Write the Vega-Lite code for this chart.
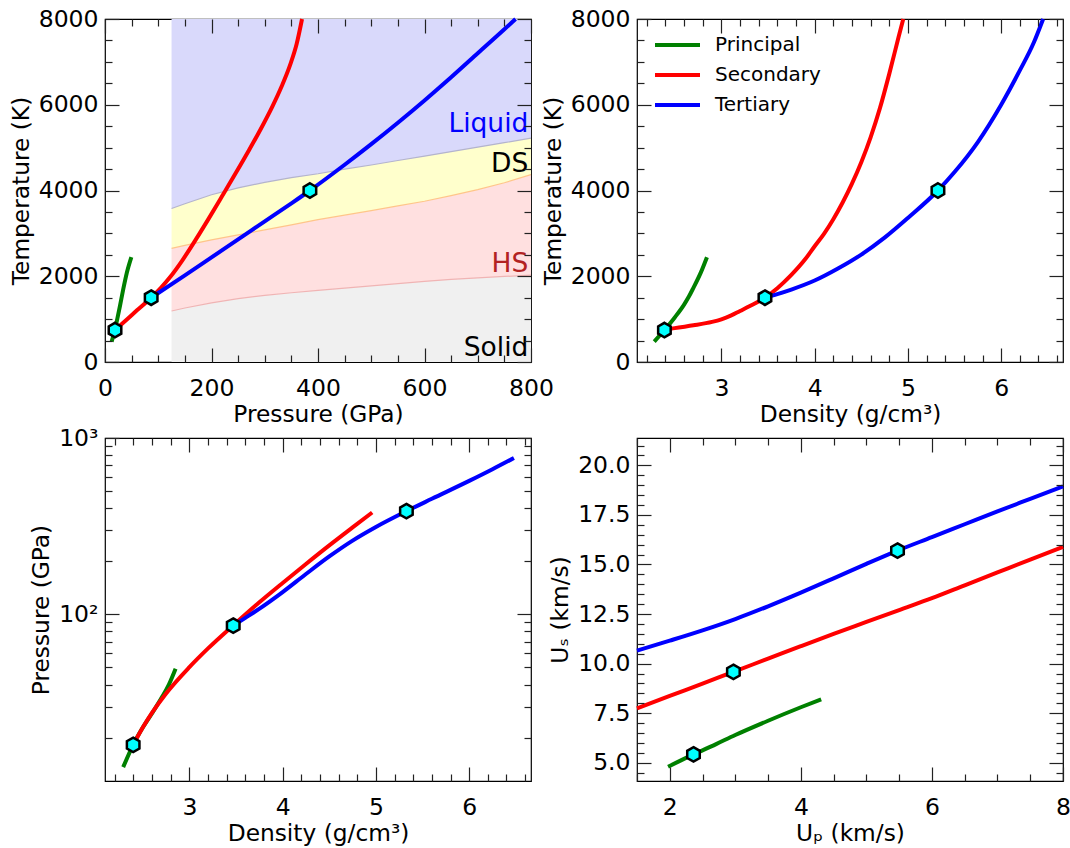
{
"$schema":"https://vega.github.io/schema/vega-lite/v6.json",
"padding":{"left":8,"top":6,"right":0,"bottom":0},
"bounds":"flush",
"columns":2,
"spacing":{"row":76,"column":106},
"config":{
 "font":"DejaVu Sans",
 "view":{"stroke":"#000","strokeWidth":1.2},
 "axis":{"grid":false,"domain":false,"labelFont":"DejaVu Sans","titleFont":"DejaVu Sans","labelFontSize":23.5,"titleFontSize":23.3,"titleFontWeight":"normal","labelColor":"#000","titleColor":"#000","tickColor":"#222","tickWidth":1.2},
 "legend":{"labelFont":"DejaVu Sans"}
},
"resolve":{"scale":{"color":"independent"}},
"datasets":{
 "p1band":[
  {"P":125,"b1":1190,"b2":2650,"b3":3580},
  {"P":150,"b1":1260,"b2":2720,"b3":3690},
  {"P":200,"b1":1380,"b2":2850,"b3":3900},
  {"P":250,"b1":1480,"b2":2965,"b3":4060},
  {"P":300,"b1":1555,"b2":3080,"b3":4190},
  {"P":350,"b1":1615,"b2":3200,"b3":4300},
  {"P":400,"b1":1670,"b2":3320,"b3":4390},
  {"P":450,"b1":1725,"b2":3425,"b3":4500},
  {"P":500,"b1":1775,"b2":3530,"b3":4595},
  {"P":550,"b1":1830,"b2":3640,"b3":4700},
  {"P":600,"b1":1880,"b2":3750,"b3":4800},
  {"P":650,"b1":1925,"b2":3880,"b3":4905},
  {"P":700,"b1":1960,"b2":4020,"b3":5010},
  {"P":750,"b1":1995,"b2":4180,"b3":5115},
  {"P":800,"b1":2025,"b2":4370,"b3":5220}],
 "p1lines":[
  {"s":"Principal","P":12.5,"T":475},{"s":"Principal","P":18.5,"T":745},{"s":"Principal","P":23,"T":1000},{"s":"Principal","P":28,"T":1300},{"s":"Principal","P":34,"T":1680},{"s":"Principal","P":41,"T":2080},{"s":"Principal","P":49.5,"T":2444},
  {"s":"Secondary","P":18.8,"T":745},{"s":"Secondary","P":40,"T":980},{"s":"Secondary","P":60,"T":1205},{"s":"Secondary","P":86.7,"T":1500},{"s":"Secondary","P":105,"T":1729},{"s":"Secondary","P":122,"T":1975},{"s":"Secondary","P":145,"T":2366},{"s":"Secondary","P":171,"T":2865},{"s":"Secondary","P":195,"T":3350},{"s":"Secondary","P":220,"T":3870},{"s":"Secondary","P":245,"T":4395},{"s":"Secondary","P":269,"T":4911},{"s":"Secondary","P":292,"T":5424},{"s":"Secondary","P":314,"T":5952},{"s":"Secondary","P":332,"T":6438},{"s":"Secondary","P":348,"T":6942},{"s":"Secondary","P":360,"T":7422},{"s":"Secondary","P":370,"T":8000},
  {"s":"Tertiary","P":86.7,"T":1500},{"s":"Tertiary","P":150,"T":2020},{"s":"Tertiary","P":200,"T":2440},{"s":"Tertiary","P":250,"T":2860},{"s":"Tertiary","P":300,"T":3280},{"s":"Tertiary","P":350,"T":3700},{"s":"Tertiary","P":384.8,"T":4000},{"s":"Tertiary","P":450,"T":4600},{"s":"Tertiary","P":500,"T":5080},{"s":"Tertiary","P":550,"T":5580},{"s":"Tertiary","P":600,"T":6100},{"s":"Tertiary","P":650,"T":6640},{"s":"Tertiary","P":700,"T":7200},{"s":"Tertiary","P":750,"T":7760},{"s":"Tertiary","P":771,"T":8000}],
 "p1pts":[{"P":18.8,"T":745},{"P":86.7,"T":1500},{"P":384.8,"T":4000}],
 "p1text":[{"label":"Liquid","P":795,"T":5353},{"label":"DS","P":795,"T":4443},{"label":"HS","P":795,"T":2090},{"label":"Solid","P":795,"T":149}],
 "p2lines":[
  {"s":"Principal","rho":2.28,"T":475},{"s":"Principal","rho":2.389,"T":745},{"s":"Principal","rho":2.5,"T":1040},{"s":"Principal","rho":2.6,"T":1340},{"s":"Principal","rho":2.65,"T":1520},{"s":"Principal","rho":2.7,"T":1730},{"s":"Principal","rho":2.78,"T":2090},{"s":"Principal","rho":2.845,"T":2444},
  {"s":"Secondary","rho":2.389,"T":745},{"s":"Secondary","rho":2.5,"T":790},{"s":"Secondary","rho":2.7,"T":855},{"s":"Secondary","rho":2.9,"T":935},{"s":"Secondary","rho":3.0,"T":995},{"s":"Secondary","rho":3.1,"T":1080},{"s":"Secondary","rho":3.2,"T":1190},{"s":"Secondary","rho":3.3,"T":1300},{"s":"Secondary","rho":3.467,"T":1500},{"s":"Secondary","rho":3.6,"T":1720},{"s":"Secondary","rho":3.75,"T":2030},{"s":"Secondary","rho":3.9,"T":2400},{"s":"Secondary","rho":4.0,"T":2700},{"s":"Secondary","rho":4.1,"T":2990},{"s":"Secondary","rho":4.2,"T":3330},{"s":"Secondary","rho":4.3,"T":3720},{"s":"Secondary","rho":4.4,"T":4160},{"s":"Secondary","rho":4.5,"T":4660},{"s":"Secondary","rho":4.6,"T":5240},{"s":"Secondary","rho":4.7,"T":5920},{"s":"Secondary","rho":4.8,"T":6720},{"s":"Secondary","rho":4.9,"T":7580},{"s":"Secondary","rho":4.95,"T":8000},
  {"s":"Tertiary","rho":3.467,"T":1500},{"s":"Tertiary","rho":3.6,"T":1585},{"s":"Tertiary","rho":3.75,"T":1690},{"s":"Tertiary","rho":4.0,"T":1900},{"s":"Tertiary","rho":4.25,"T":2180},{"s":"Tertiary","rho":4.5,"T":2505},{"s":"Tertiary","rho":4.75,"T":2900},{"s":"Tertiary","rho":5.0,"T":3360},{"s":"Tertiary","rho":5.322,"T":4000},{"s":"Tertiary","rho":5.5,"T":4430},{"s":"Tertiary","rho":5.75,"T":5130},{"s":"Tertiary","rho":6.0,"T":6000},{"s":"Tertiary","rho":6.2,"T":6800},{"s":"Tertiary","rho":6.35,"T":7450},{"s":"Tertiary","rho":6.45,"T":8000}],
 "p2pts":[{"rho":2.389,"T":745},{"rho":3.467,"T":1500},{"rho":5.322,"T":4000}],
 "p3lines":[
  {"s":"Principal","rho":2.29,"P":13.6},{"s":"Principal","rho":2.397,"P":18.2},{"s":"Principal","rho":2.5,"P":22.8},{"s":"Principal","rho":2.6,"P":27.5},{"s":"Principal","rho":2.7,"P":33.5},{"s":"Principal","rho":2.78,"P":40},{"s":"Principal","rho":2.852,"P":49.2},
  {"s":"Secondary","rho":2.397,"P":18.2},{"s":"Secondary","rho":2.5,"P":22.8},{"s":"Secondary","rho":2.6,"P":27.7},{"s":"Secondary","rho":2.75,"P":35.6},{"s":"Secondary","rho":3.0,"P":50.2},{"s":"Secondary","rho":3.2,"P":64.1},{"s":"Secondary","rho":3.47,"P":86.6},{"s":"Secondary","rho":3.75,"P":117},{"s":"Secondary","rho":4.0,"P":150.7},{"s":"Secondary","rho":4.25,"P":193},{"s":"Secondary","rho":4.5,"P":246},{"s":"Secondary","rho":4.75,"P":311},{"s":"Secondary","rho":4.96,"P":378},
  {"s":"Tertiary","rho":3.47,"P":86.3},{"s":"Tertiary","rho":3.6,"P":95.5},{"s":"Tertiary","rho":3.744,"P":107},{"s":"Tertiary","rho":4.0,"P":133.7},{"s":"Tertiary","rho":4.25,"P":169.3},{"s":"Tertiary","rho":4.5,"P":213},{"s":"Tertiary","rho":4.75,"P":262},{"s":"Tertiary","rho":5.0,"P":313},{"s":"Tertiary","rho":5.327,"P":384.6},{"s":"Tertiary","rho":5.6,"P":452},{"s":"Tertiary","rho":6.0,"P":571},{"s":"Tertiary","rho":6.25,"P":665},{"s":"Tertiary","rho":6.48,"P":770}],
 "p3pts":[{"rho":2.397,"P":18.2},{"rho":3.47,"P":86.3},{"rho":5.327,"P":384.6}],
 "p4lines":[
  {"s":"Principal","Up":1.974,"Us":4.8},{"s":"Principal","Up":2.362,"Us":5.42},{"s":"Principal","Up":2.7,"Us":5.93},{"s":"Principal","Up":3.0,"Us":6.4},{"s":"Principal","Up":3.5,"Us":7.12},{"s":"Principal","Up":4.0,"Us":7.8},{"s":"Principal","Up":4.31,"Us":8.2},
  {"s":"Secondary","Up":1.5,"Us":7.74},{"s":"Secondary","Up":2.0,"Us":8.37},{"s":"Secondary","Up":2.5,"Us":8.99},{"s":"Secondary","Up":2.971,"Us":9.586},{"s":"Secondary","Up":3.5,"Us":10.25},{"s":"Secondary","Up":4.0,"Us":10.88},{"s":"Secondary","Up":4.5,"Us":11.5},{"s":"Secondary","Up":5.0,"Us":12.1},{"s":"Secondary","Up":5.5,"Us":12.7},{"s":"Secondary","Up":6.0,"Us":13.3},{"s":"Secondary","Up":6.5,"Us":13.95},{"s":"Secondary","Up":7.0,"Us":14.6},{"s":"Secondary","Up":7.5,"Us":15.25},{"s":"Secondary","Up":8.0,"Us":15.89},
  {"s":"Tertiary","Up":1.5,"Us":10.66},{"s":"Tertiary","Up":2.0,"Us":11.16},{"s":"Tertiary","Up":2.5,"Us":11.68},{"s":"Tertiary","Up":3.0,"Us":12.25},{"s":"Tertiary","Up":3.5,"Us":12.89},{"s":"Tertiary","Up":4.0,"Us":13.58},{"s":"Tertiary","Up":4.5,"Us":14.3},{"s":"Tertiary","Up":5.0,"Us":15.03},{"s":"Tertiary","Up":5.475,"Us":15.7},{"s":"Tertiary","Up":6.0,"Us":16.38},{"s":"Tertiary","Up":6.5,"Us":17.03},{"s":"Tertiary","Up":7.0,"Us":17.68},{"s":"Tertiary","Up":7.5,"Us":18.31},{"s":"Tertiary","Up":8.0,"Us":18.94}],
 "p4pts":[{"Up":2.362,"Us":5.42},{"Up":2.971,"Us":9.586},{"Up":5.475,"Us":15.7}]
},
"concat":[
{
 "width":426,"height":343,
 "resolve":{"axis":{"x":"independent","y":"independent"}},
 "layer":[
  {"data":{"name":"p1band"},"mark":{"type":"area","color":"#f0f0f0","opacity":1},
   "encoding":{
    "x":{"field":"P","type":"quantitative","scale":{"domain":[0,800],"nice":false,"zero":false},"axis":{"orient":"bottom","values":[0,200,400,600,800],"format":"d","ticks":false,"labelPadding":14,"labelFlush":false,"labelOverlap":false,"title":"Pressure (GPa)","titlePadding":4,"zindex":1}},
    "y":{"field":"b1","type":"quantitative","scale":{"domain":[0,8000],"nice":false,"zero":false},"axis":{"orient":"left","values":[0,2000,4000,6000,8000],"format":"d","ticks":false,"labelPadding":7,"labelFlush":false,"labelOverlap":false,"title":"Temperature (K)","titlePadding":5,"zindex":1}},
    "y2":{"datum":0}}},
  {"data":{"name":"p1band"},"mark":{"type":"area","color":"#ffe0e0","opacity":1},
   "encoding":{
    "x":{"field":"P","type":"quantitative","scale":{"domain":[0,800],"nice":false,"zero":false},"axis":{"orient":"bottom","values":[0,200,400,600,800],"labels":false,"tickSize":-14,"title":null,"zindex":1}},
    "y":{"field":"b2","type":"quantitative","scale":{"domain":[0,8000],"nice":false,"zero":false},"axis":{"orient":"left","values":[0,2000,4000,6000,8000],"labels":false,"tickSize":-14,"title":null,"zindex":1}},
    "y2":{"field":"b1"}}},
  {"data":{"name":"p1band"},"mark":{"type":"area","color":"#ffffcc","opacity":1},
   "encoding":{
    "x":{"field":"P","type":"quantitative","scale":{"domain":[0,800],"nice":false,"zero":false},"axis":{"orient":"bottom","values":[50,100,150,250,300,350,450,500,550,650,700,750],"labels":false,"tickSize":-7,"title":null,"zindex":1}},
    "y":{"field":"b3","type":"quantitative","scale":{"domain":[0,8000],"nice":false,"zero":false},"axis":{"orient":"left","values":[500,1000,1500,2500,3000,3500,4500,5000,5500,6500,7000,7500],"labels":false,"tickSize":-7,"title":null,"zindex":1}},
    "y2":{"field":"b2"}}},
  {"data":{"name":"p1band"},"mark":{"type":"area","color":"#d9d9fb","opacity":1},
   "encoding":{
    "x":{"field":"P","type":"quantitative","scale":{"domain":[0,800],"nice":false,"zero":false},"axis":{"orient":"top","values":[0,200,400,600,800],"labels":false,"tickSize":-14,"title":null,"zindex":1}},
    "y":{"field":"b3","type":"quantitative","scale":{"domain":[0,8000],"nice":false,"zero":false},"axis":{"orient":"right","values":[0,2000,4000,6000,8000],"labels":false,"tickSize":-14,"title":null,"zindex":1}},
    "y2":{"datum":8000}}},
  {"data":{"name":"p1band"},"mark":{"type":"line","color":"#f0b4b4","strokeWidth":1.2},
   "encoding":{
    "x":{"field":"P","type":"quantitative","scale":{"domain":[0,800],"nice":false,"zero":false},"axis":{"orient":"top","values":[50,100,150,250,300,350,450,500,550,650,700,750],"labels":false,"tickSize":-7,"title":null,"zindex":1}},
    "y":{"field":"b1","type":"quantitative","scale":{"domain":[0,8000],"nice":false,"zero":false},"axis":{"orient":"right","values":[500,1000,1500,2500,3000,3500,4500,5000,5500,6500,7000,7500],"labels":false,"tickSize":-7,"title":null,"zindex":1}}}},
  {"data":{"name":"p1band"},"mark":{"type":"line","color":"#ffc58a","strokeWidth":1.2},
   "encoding":{
    "x":{"field":"P","type":"quantitative","scale":{"domain":[0,800],"nice":false,"zero":false},"axis":null},
    "y":{"field":"b2","type":"quantitative","scale":{"domain":[0,8000],"nice":false,"zero":false},"axis":null}}},
  {"data":{"name":"p1band"},"mark":{"type":"line","color":"#b4b4cc","strokeWidth":1.2},
   "encoding":{
    "x":{"field":"P","type":"quantitative","scale":{"domain":[0,800],"nice":false,"zero":false},"axis":null},
    "y":{"field":"b3","type":"quantitative","scale":{"domain":[0,8000],"nice":false,"zero":false},"axis":null}}},
  {"data":{"name":"p1lines"},"mark":{"type":"line","strokeWidth":4,"interpolate":"monotone"},
   "encoding":{
    "x":{"field":"P","type":"quantitative","scale":{"domain":[0,800],"nice":false,"zero":false},"axis":null},
    "y":{"field":"T","type":"quantitative","scale":{"domain":[0,8000],"nice":false,"zero":false},"axis":null},
    "color":{"field":"s","type":"nominal","scale":{"domain":["Principal","Secondary","Tertiary"],"range":["#008000","#ff0000","#0000ff"]},"legend":null}}},
  {"data":{"name":"p1pts"},"mark":{"type":"point","shape":"M0,-1L0.866,-0.5L0.866,0.5L0,1L-0.866,0.5L-0.866,-0.5Z","filled":true,"color":"#00ffff","stroke":"#000000","strokeWidth":2.5,"size":210,"opacity":1},
   "encoding":{
    "x":{"field":"P","type":"quantitative","scale":{"domain":[0,800],"nice":false,"zero":false},"axis":null},
    "y":{"field":"T","type":"quantitative","scale":{"domain":[0,8000],"nice":false,"zero":false},"axis":null}}},
  {"data":{"name":"p1text"},"mark":{"type":"text","align":"right","baseline":"alphabetic","fontSize":26.5,"font":"DejaVu Sans"},
   "encoding":{
    "x":{"field":"P","type":"quantitative","scale":{"domain":[0,800],"nice":false,"zero":false},"axis":null},
    "y":{"field":"T","type":"quantitative","scale":{"domain":[0,8000],"nice":false,"zero":false},"axis":null},
    "text":{"field":"label"},
    "fill":{"field":"label","type":"nominal","scale":{"domain":["Liquid","DS","HS","Solid"],"range":["#0000ff","#000000","#b22222","#000000"]},"legend":null}}}
 ]
},
{
 "width":426,"height":343,
 "resolve":{"axis":{"x":"independent","y":"independent"}},
 "layer":[
  {"data":{"name":"p2lines"},"mark":{"type":"line","strokeWidth":4,"interpolate":"monotone"},
   "encoding":{
    "x":{"field":"rho","type":"quantitative","scale":{"domain":[2.095,6.663],"nice":false,"zero":false},"axis":{"orient":"bottom","values":[3,4,5,6],"format":"d","ticks":false,"labelPadding":14,"labelFlush":false,"labelOverlap":false,"title":"Density (g/cm³)","titlePadding":4,"zindex":1}},
    "y":{"field":"T","type":"quantitative","scale":{"domain":[0,8000],"nice":false,"zero":false},"axis":{"orient":"left","values":[0,2000,4000,6000,8000],"format":"d","ticks":false,"labelPadding":7,"labelFlush":false,"labelOverlap":false,"title":"Temperature (K)","titlePadding":5,"zindex":1}},
    "color":{"field":"s","type":"nominal","scale":{"domain":["Principal","Secondary","Tertiary"],"range":["#008000","#ff0000","#0000ff"]},
      "legend":{"orient":"none","legendX":16,"legendY":11,"title":null,"symbolType":"stroke","symbolSize":2025,"symbolStrokeWidth":4,"labelFontSize":20,"labelColor":"#000","clipHeight":30,"rowPadding":0,"labelOffset":13,"padding":0}}}},
  {"data":{"name":"p2pts"},"mark":{"type":"point","shape":"M0,-1L0.866,-0.5L0.866,0.5L0,1L-0.866,0.5L-0.866,-0.5Z","filled":true,"color":"#00ffff","stroke":"#000000","strokeWidth":2.5,"size":210,"opacity":1},
   "encoding":{
    "x":{"field":"rho","type":"quantitative","scale":{"domain":[2.095,6.663],"nice":false,"zero":false},"axis":{"orient":"bottom","values":[3,4,5,6],"labels":false,"tickSize":-14,"title":null,"zindex":1}},
    "y":{"field":"T","type":"quantitative","scale":{"domain":[0,8000],"nice":false,"zero":false},"axis":{"orient":"left","values":[0,2000,4000,6000,8000],"labels":false,"tickSize":-14,"title":null,"zindex":1}}}},
  {"data":{"name":"p2pts"},"mark":{"type":"point","opacity":0},
   "encoding":{
    "x":{"field":"rho","type":"quantitative","scale":{"domain":[2.095,6.663],"nice":false,"zero":false},"axis":{"orient":"bottom","values":[2.2,2.4,2.6,2.8,3.2,3.4,3.6,3.8,4.2,4.4,4.6,4.8,5.2,5.4,5.6,5.8,6.2,6.4,6.6],"labels":false,"tickSize":-7,"title":null,"zindex":1}},
    "y":{"field":"T","type":"quantitative","scale":{"domain":[0,8000],"nice":false,"zero":false},"axis":{"orient":"left","values":[500,1000,1500,2500,3000,3500,4500,5000,5500,6500,7000,7500],"labels":false,"tickSize":-7,"title":null,"zindex":1}}}},
  {"data":{"name":"p2pts"},"mark":{"type":"point","opacity":0},
   "encoding":{
    "x":{"field":"rho","type":"quantitative","scale":{"domain":[2.095,6.663],"nice":false,"zero":false},"axis":{"orient":"top","values":[3,4,5,6],"labels":false,"tickSize":-14,"title":null,"zindex":1}},
    "y":{"field":"T","type":"quantitative","scale":{"domain":[0,8000],"nice":false,"zero":false},"axis":{"orient":"right","values":[0,2000,4000,6000,8000],"labels":false,"tickSize":-14,"title":null,"zindex":1}}}},
  {"data":{"name":"p2pts"},"mark":{"type":"point","opacity":0},
   "encoding":{
    "x":{"field":"rho","type":"quantitative","scale":{"domain":[2.095,6.663],"nice":false,"zero":false},"axis":{"orient":"top","values":[2.2,2.4,2.6,2.8,3.2,3.4,3.6,3.8,4.2,4.4,4.6,4.8,5.2,5.4,5.6,5.8,6.2,6.4,6.6],"labels":false,"tickSize":-7,"title":null,"zindex":1}},
    "y":{"field":"T","type":"quantitative","scale":{"domain":[0,8000],"nice":false,"zero":false},"axis":{"orient":"right","values":[500,1000,1500,2500,3000,3500,4500,5000,5500,6500,7000,7500],"labels":false,"tickSize":-7,"title":null,"zindex":1}}}}
 ]
},
{
 "width":426,"height":343,
 "resolve":{"axis":{"x":"independent","y":"independent"}},
 "layer":[
  {"data":{"name":"p3lines"},"mark":{"type":"line","strokeWidth":4,"interpolate":"monotone"},
   "encoding":{
    "x":{"field":"rho","type":"quantitative","scale":{"domain":[2.095,6.663],"nice":false,"zero":false},"axis":{"orient":"bottom","values":[3,4,5,6],"format":"d","ticks":false,"labelPadding":14,"labelFlush":false,"labelOverlap":false,"title":"Density (g/cm³)","titlePadding":4,"zindex":1}},
    "y":{"field":"P","type":"quantitative","scale":{"type":"log","domain":[11.35,1000],"nice":false},"axis":{"orient":"left","values":[100,1000],"labelExpr":"datum.value < 500 ? '10²' : '10³'","ticks":false,"labelPadding":7,"labelFlush":false,"labelOverlap":false,"title":"Pressure (GPa)","titlePadding":5,"zindex":1}},
    "color":{"field":"s","type":"nominal","scale":{"domain":["Principal","Secondary","Tertiary"],"range":["#008000","#ff0000","#0000ff"]},"legend":null}}},
  {"data":{"name":"p3pts"},"mark":{"type":"point","shape":"M0,-1L0.866,-0.5L0.866,0.5L0,1L-0.866,0.5L-0.866,-0.5Z","filled":true,"color":"#00ffff","stroke":"#000000","strokeWidth":2.5,"size":210,"opacity":1},
   "encoding":{
    "x":{"field":"rho","type":"quantitative","scale":{"domain":[2.095,6.663],"nice":false,"zero":false},"axis":{"orient":"bottom","values":[3,4,5,6],"labels":false,"tickSize":-14,"title":null,"zindex":1}},
    "y":{"field":"P","type":"quantitative","scale":{"type":"log","domain":[11.35,1000],"nice":false},"axis":{"orient":"left","values":[100,1000],"labels":false,"tickSize":-14,"title":null,"zindex":1}}}},
  {"data":{"name":"p3pts"},"mark":{"type":"point","opacity":0},
   "encoding":{
    "x":{"field":"rho","type":"quantitative","scale":{"domain":[2.095,6.663],"nice":false,"zero":false},"axis":{"orient":"bottom","values":[2.2,2.4,2.6,2.8,3.2,3.4,3.6,3.8,4.2,4.4,4.6,4.8,5.2,5.4,5.6,5.8,6.2,6.4,6.6],"labels":false,"tickSize":-7,"title":null,"zindex":1}},
    "y":{"field":"P","type":"quantitative","scale":{"type":"log","domain":[11.35,1000],"nice":false},"axis":{"orient":"left","values":[20,30,40,50,60,70,80,90,200,300,400,500,600,700,800,900],"labels":false,"tickSize":-7,"title":null,"zindex":1}}}},
  {"data":{"name":"p3pts"},"mark":{"type":"point","opacity":0},
   "encoding":{
    "x":{"field":"rho","type":"quantitative","scale":{"domain":[2.095,6.663],"nice":false,"zero":false},"axis":{"orient":"top","values":[3,4,5,6],"labels":false,"tickSize":-14,"title":null,"zindex":1}},
    "y":{"field":"P","type":"quantitative","scale":{"type":"log","domain":[11.35,1000],"nice":false},"axis":{"orient":"right","values":[100,1000],"labels":false,"tickSize":-14,"title":null,"zindex":1}}}},
  {"data":{"name":"p3pts"},"mark":{"type":"point","opacity":0},
   "encoding":{
    "x":{"field":"rho","type":"quantitative","scale":{"domain":[2.095,6.663],"nice":false,"zero":false},"axis":{"orient":"top","values":[2.2,2.4,2.6,2.8,3.2,3.4,3.6,3.8,4.2,4.4,4.6,4.8,5.2,5.4,5.6,5.8,6.2,6.4,6.6],"labels":false,"tickSize":-7,"title":null,"zindex":1}},
    "y":{"field":"P","type":"quantitative","scale":{"type":"log","domain":[11.35,1000],"nice":false},"axis":{"orient":"right","values":[20,30,40,50,60,70,80,90,200,300,400,500,600,700,800,900],"labels":false,"tickSize":-7,"title":null,"zindex":1}}}}
 ]
},
{
 "width":426,"height":343,
 "resolve":{"axis":{"x":"independent","y":"independent"}},
 "layer":[
  {"data":{"name":"p4lines"},"mark":{"type":"line","strokeWidth":4,"interpolate":"monotone"},
   "encoding":{
    "x":{"field":"Up","type":"quantitative","scale":{"domain":[1.5,8],"nice":false,"zero":false},"axis":{"orient":"bottom","values":[2,4,6,8],"format":"d","ticks":false,"labelPadding":14,"labelFlush":false,"labelOverlap":false,"title":"Uₚ (km/s)","titlePadding":4,"zindex":1}},
    "y":{"field":"Us","type":"quantitative","scale":{"domain":[4.08,21.38],"nice":false,"zero":false},"axis":{"orient":"left","values":[5,7.5,10,12.5,15,17.5,20],"format":".1f","ticks":false,"labelPadding":7,"labelFlush":false,"labelOverlap":false,"title":"Uₛ (km/s)","titlePadding":5,"zindex":1}},
    "color":{"field":"s","type":"nominal","scale":{"domain":["Principal","Secondary","Tertiary"],"range":["#008000","#ff0000","#0000ff"]},"legend":null}}},
  {"data":{"name":"p4pts"},"mark":{"type":"point","shape":"M0,-1L0.866,-0.5L0.866,0.5L0,1L-0.866,0.5L-0.866,-0.5Z","filled":true,"color":"#00ffff","stroke":"#000000","strokeWidth":2.5,"size":210,"opacity":1},
   "encoding":{
    "x":{"field":"Up","type":"quantitative","scale":{"domain":[1.5,8],"nice":false,"zero":false},"axis":{"orient":"bottom","values":[2,4,6,8],"labels":false,"tickSize":-14,"title":null,"zindex":1}},
    "y":{"field":"Us","type":"quantitative","scale":{"domain":[4.08,21.38],"nice":false,"zero":false},"axis":{"orient":"left","values":[5,7.5,10,12.5,15,17.5,20],"labels":false,"tickSize":-14,"title":null,"zindex":1}}}},
  {"data":{"name":"p4pts"},"mark":{"type":"point","opacity":0},
   "encoding":{
    "x":{"field":"Up","type":"quantitative","scale":{"domain":[1.5,8],"nice":false,"zero":false},"axis":{"orient":"bottom","values":[1.5,2.5,3,3.5,4.5,5,5.5,6.5,7,7.5],"labels":false,"tickSize":-7,"title":null,"zindex":1}},
    "y":{"field":"Us","type":"quantitative","scale":{"domain":[4.08,21.38],"nice":false,"zero":false},"axis":{"orient":"left","values":[4.5,5.5,6,6.5,7,8,8.5,9,9.5,10.5,11,11.5,12,13,13.5,14,14.5,15.5,16,16.5,17,18,18.5,19,19.5,20.5,21],"labels":false,"tickSize":-7,"title":null,"zindex":1}}}},
  {"data":{"name":"p4pts"},"mark":{"type":"point","opacity":0},
   "encoding":{
    "x":{"field":"Up","type":"quantitative","scale":{"domain":[1.5,8],"nice":false,"zero":false},"axis":{"orient":"top","values":[2,4,6,8],"labels":false,"tickSize":-14,"title":null,"zindex":1}},
    "y":{"field":"Us","type":"quantitative","scale":{"domain":[4.08,21.38],"nice":false,"zero":false},"axis":{"orient":"right","values":[5,7.5,10,12.5,15,17.5,20],"labels":false,"tickSize":-14,"title":null,"zindex":1}}}},
  {"data":{"name":"p4pts"},"mark":{"type":"point","opacity":0},
   "encoding":{
    "x":{"field":"Up","type":"quantitative","scale":{"domain":[1.5,8],"nice":false,"zero":false},"axis":{"orient":"top","values":[1.5,2.5,3,3.5,4.5,5,5.5,6.5,7,7.5],"labels":false,"tickSize":-7,"title":null,"zindex":1}},
    "y":{"field":"Us","type":"quantitative","scale":{"domain":[4.08,21.38],"nice":false,"zero":false},"axis":{"orient":"right","values":[4.5,5.5,6,6.5,7,8,8.5,9,9.5,10.5,11,11.5,12,13,13.5,14,14.5,15.5,16,16.5,17,18,18.5,19,19.5,20.5,21],"labels":false,"tickSize":-7,"title":null,"zindex":1}}}}
 ]
}
]
}
